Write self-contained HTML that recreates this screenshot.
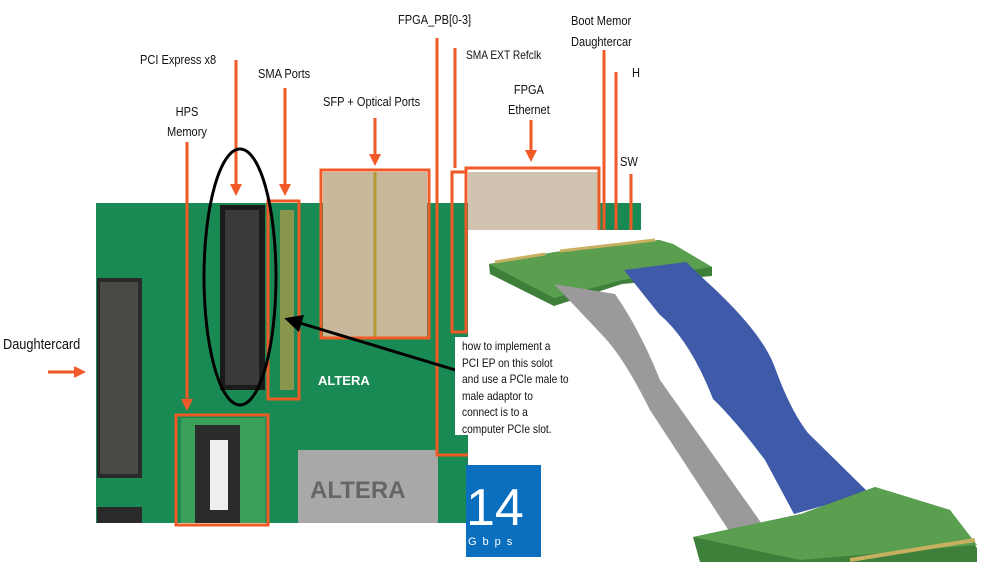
<!DOCTYPE html><html><head><style>
body{margin:0;width:999px;height:562px;overflow:hidden;background:#fff;font-family:"Liberation Sans",sans-serif;position:relative}
.t{position:absolute;font-size:13px;color:#111;white-space:nowrap;transform:scaleX(.85);transform-origin:left top;line-height:20px}
</style></head><body>
<svg width="999" height="562" style="position:absolute;left:0;top:0">
<defs><marker id="a" markerWidth="4" markerHeight="4" refX="2" refY="2" orient="auto" markerUnits="strokeWidth"><path d="M0,0L4,2L0,4z" fill="#ef5a26"/></marker>
<marker id="b" markerWidth="6" markerHeight="6" refX="4" refY="3" orient="auto" markerUnits="strokeWidth"><path d="M0,0L6,3L0,6z" fill="#000"/></marker></defs>
<rect x="96" y="203" width="545" height="320" fill="#1a8a55"/>
<rect x="97" y="278" width="45" height="200" fill="#2a2a2a"/>
<rect x="100" y="282" width="38" height="192" fill="#4a4a45"/>
<rect x="97" y="507" width="45" height="16" fill="#2a2a2a"/>
<rect x="220" y="205" width="45" height="185" fill="#1b1b1b"/>
<rect x="225" y="210" width="34" height="175" fill="#3a3a3a"/>
<rect x="280" y="210" width="14" height="180" fill="#b89a4a" opacity=".7"/>
<rect x="323" y="172" width="104" height="165" fill="#c8b79a"/>
<line x1="375" y1="172" x2="375" y2="337" stroke="#b59a30" stroke-width="3"/>
<rect x="468" y="172" width="130" height="60" fill="#d0c4b0"/>
<rect x="181" y="418" width="84" height="105" fill="#3aa05a"/>
<rect x="195" y="425" width="45" height="98" fill="#2b2b2b"/>
<rect x="210" y="440" width="18" height="70" fill="#eee"/>
<rect x="298" y="450" width="140" height="73" fill="#a8a8a8"/>
<text x="310" y="498" font-size="24" fill="#666" font-family="Liberation Sans" font-weight="bold">ALTERA</text>
<text x="318" y="385" font-size="13" fill="#fff" font-weight="bold">ALTERA</text>
<g stroke="#ef5a26" stroke-width="3" fill="none">
<rect x="268" y="201" width="31" height="198"/>
<rect x="321" y="170" width="108" height="168"/>
<rect x="466" y="168" width="133" height="64"/>
<rect x="176" y="415" width="92" height="110"/>
<rect x="452" y="172" width="14" height="160"/>
<line x1="236" y1="60" x2="236" y2="190" marker-end="url(#a)"/>
<line x1="285" y1="88" x2="285" y2="190" marker-end="url(#a)"/>
<line x1="187" y1="142" x2="187" y2="405" marker-end="url(#a)"/>
<line x1="375" y1="118" x2="375" y2="160" marker-end="url(#a)"/>
<line x1="531" y1="120" x2="531" y2="156" marker-end="url(#a)"/>
<path d="M437,38V455H468"/>
<line x1="455" y1="48" x2="455" y2="168"/>
<line x1="604" y1="50" x2="604" y2="232"/>
<line x1="616" y1="72" x2="616" y2="232"/>
<line x1="631" y1="174" x2="631" y2="232"/>
<line x1="48" y1="372" x2="80" y2="372" marker-end="url(#a)"/>
</g>
<ellipse cx="240" cy="277" rx="36" ry="128" fill="none" stroke="#000" stroke-width="3"/>
<rect x="468" y="230" width="531" height="332" fill="#fff"/>
<rect x="466" y="465" width="75" height="92" fill="#0a6fbf"/>
<text x="466" y="525" font-size="52" fill="#fff">14</text>
<text x="468" y="545" font-size="11" fill="#fff" letter-spacing="6">Gbps</text>
<!-- cable -->
<polygon points="489,264 555,252 659,240 673,244 712,267 712,276 622,284 554,306 490,274" fill="#3e7f3a"/>
<polygon points="489,264 555,252 659,240 673,244 712,267 622,280 554,298" fill="#5a9e50"/>
<line x1="495" y1="262" x2="545" y2="254" stroke="#c8b060" stroke-width="3"/>
<line x1="560" y1="251" x2="655" y2="240" stroke="#c8b060" stroke-width="3"/>
<path d="M554,284 L615,294 Q640,330 660,380 L767,531 L733,537 L650,410 Q625,360 605,338 Z" fill="#9a9a9a"/>
<path d="M624,270 L686,262 L706,281 Q760,330 774,365 Q790,410 808,433 L869,493 L794,514 L765,460 Q735,420 713,399 Q690,340 659,314 Z" fill="#3f5aa8"/>
<polygon points="693,537 801,514 875,487 950,510 977,548 977,562 700,562" fill="#3e7f3a"/>
<polygon points="693,537 801,514 875,487 950,510 977,545 800,560" fill="#5a9e50"/>
<line x1="850" y1="560" x2="975" y2="540" stroke="#c8b060" stroke-width="4"/>
<line x1="462" y1="372" x2="290" y2="320" stroke="#000" stroke-width="3" marker-end="url(#b)"/>
</svg>
<div style="position:absolute;top:337px;left:455px;width:130px;height:98px;background:#fff"></div>
<div class="t" style="left:462px;top:338px;font-size:12px;line-height:16.5px">how to implement a<br>PCI EP on this solot<br>and use a PCIe male to<br>male adaptor to<br>connect is to a<br>computer PCIe slot.</div>
<div class="t" style="left:140px;top:50px">PCI Express x8</div>
<div class="t" style="left:258px;top:64px">SMA Ports</div>
<div class="t" style="left:167px;top:102px;text-align:center">HPS<br>Memory</div>
<div class="t" style="left:323px;top:92px">SFP + Optical Ports</div>
<div class="t" style="left:398px;top:10px">FPGA_PB[0-3]</div>
<div class="t" style="left:466px;top:45px;font-size:12px">SMA EXT Refclk</div>
<div class="t" style="left:508px;top:80px;text-align:center">FPGA<br>Ethernet</div>
<div class="t" style="left:571px;top:10px;line-height:21px">Boot Memor<br>Daughtercar</div>
<div class="t" style="left:632px;top:63px">H</div>
<div class="t" style="left:620px;top:152px">SW</div>
<div class="t" style="left:3px;top:335px;font-size:15px">Daughtercard</div>
</body></html>
